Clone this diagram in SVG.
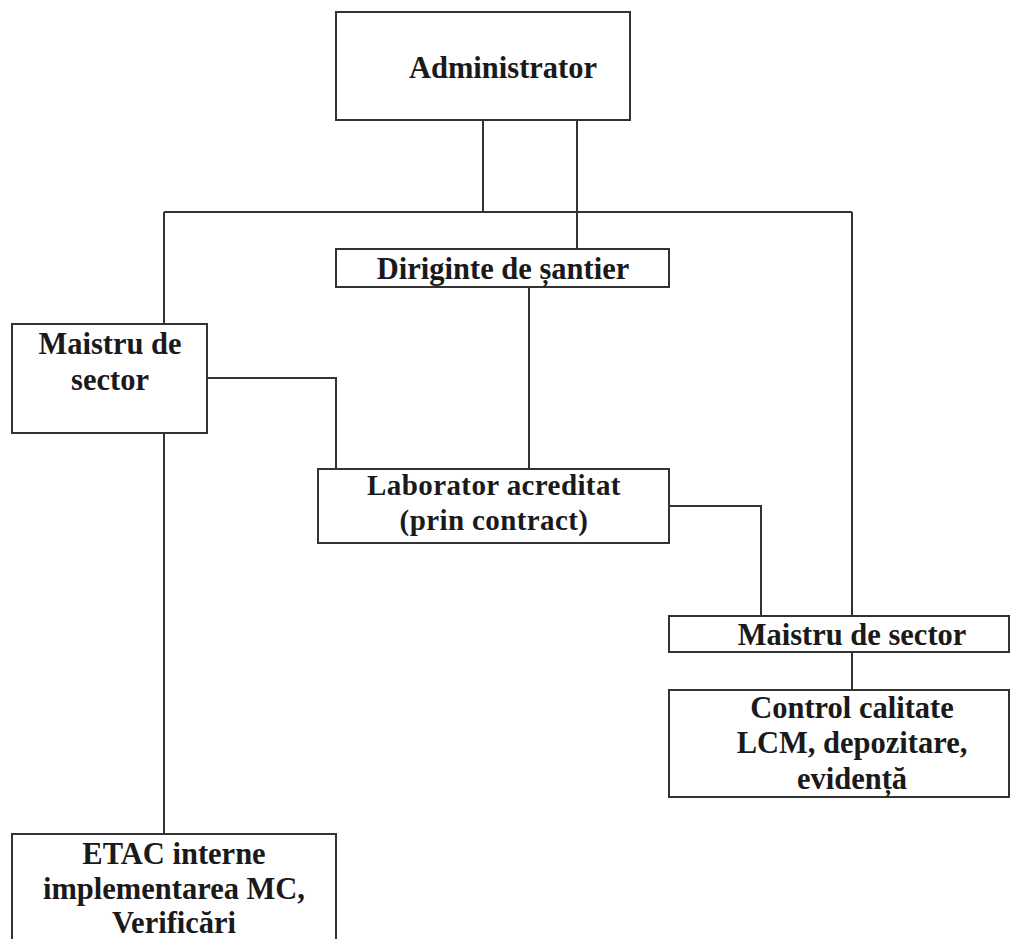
<svg xmlns="http://www.w3.org/2000/svg" width="1024" height="939" viewBox="0 0 1024 939">
<style>
.box{fill:#fff;stroke:#333;stroke-width:2}
.ln{fill:none;stroke:#333;stroke-width:2}
text{font-family:"Liberation Serif","Times New Roman",serif;font-weight:bold;font-size:30.5px;fill:#1a1a1a;text-anchor:middle}
.tight{font-size:29px;letter-spacing:0.4px}
</style>
<rect width="1024" height="939" fill="#fff"/>
<g id="connectors">
<path class="ln" d="M483 120V212M577 120V249M164 212H852M164 212V324M852 212V616M529 287V469M207 378H336V469M669 506H761V616M852 652V690M164 433V834"/>
</g>
<g id="administrator"><rect class="box" x="336" y="12" width="294" height="108"/><text x="503" y="78">Administrator</text></g>
<g id="diriginte"><rect class="box" x="336" y="249" width="333" height="38"/><text x="503" y="279">Diriginte de șantier</text></g>
<g id="maistru-left"><rect class="box" x="12" y="324" width="195" height="109"/><text x="110" y="354">Maistru de</text><text x="110" y="390">sector</text></g>
<g id="laborator"><rect class="box" x="318" y="469" width="351" height="74"/><text class="tight" x="494" y="495">Laborator acreditat</text><text class="tight" x="494" y="530">(prin contract)</text></g>
<g id="maistru-right"><rect class="box" x="669" y="616" width="340" height="36"/><text x="852" y="645">Maistru de sector</text></g>
<g id="control"><rect class="box" x="669" y="690" width="340" height="107"/><text x="852" y="718">Control calitate</text><text x="852" y="753">LCM, depozitare,</text><text x="852" y="789">evidență</text></g>
<g id="etac"><rect class="box" x="12" y="834" width="324" height="120"/><text x="174" y="864">ETAC interne</text><text x="174" y="899">implementarea MC,</text><text x="174" y="933">Verificări</text></g>
</svg>
